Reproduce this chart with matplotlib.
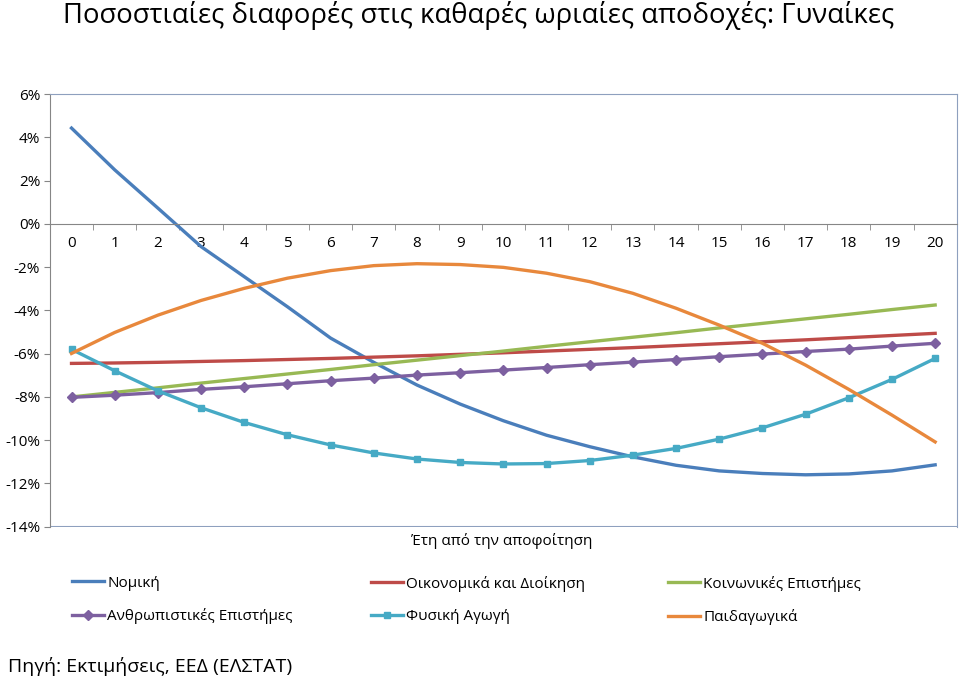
import numpy as np
import matplotlib.pyplot as plt
from matplotlib.ticker import FuncFormatter

plt.rcParams['font.family'] = ['Open Sans', 'DejaVu Sans']

years = list(range(21))

nomiki = [4.43, 2.5, 0.73, -1.05, -2.44, -3.83, -5.28, -6.4, -7.45, -8.33, -9.1,
          -9.77, -10.3, -10.77, -11.16, -11.42, -11.54, -11.6, -11.56, -11.42, -11.14]
oikonomika = [-6.45, -6.43, -6.4, -6.36, -6.32, -6.27, -6.22, -6.16, -6.1, -6.03, -5.96,
              -5.88, -5.8, -5.72, -5.63, -5.54, -5.45, -5.36, -5.26, -5.16, -5.06]
koinonikes = [-8.0, -7.79, -7.58, -7.36, -7.15, -6.94, -6.73, -6.51, -6.3, -6.09, -5.88,
              -5.66, -5.45, -5.24, -5.03, -4.81, -4.6, -4.39, -4.18, -3.96, -3.75]
anthropistikes = [-8.02, -7.92, -7.8, -7.65, -7.53, -7.39, -7.25, -7.13, -6.99, -6.88, -6.76,
                  -6.64, -6.51, -6.39, -6.27, -6.14, -6.02, -5.9, -5.79, -5.65, -5.52]
fysiki = [-5.8, -6.79, -7.72, -8.5, -9.18, -9.75, -10.22, -10.59, -10.87, -11.03, -11.1,
          -11.08, -10.94, -10.69, -10.38, -9.95, -9.43, -8.8, -8.04, -7.19, -6.22]
paidagogika = [-5.99, -5.02, -4.22, -3.54, -2.98, -2.51, -2.16, -1.93, -1.84, -1.88, -2.01,
               -2.28, -2.67, -3.21, -3.9, -4.68, -5.52, -6.53, -7.65, -8.84, -10.08]

fig = plt.figure(figsize=(9.6, 6.82), dpi=100)
ax = fig.add_axes([0.052, 0.2277, 0.9446, 0.6343])

lw = 2.4
h1, = ax.plot(years, nomiki, color='#4A7EBB', lw=lw, label='Νομική')
h2, = ax.plot(years, oikonomika, color='#BE4B48', lw=lw, label='Οικονομικά και Διοίκηση')
h3, = ax.plot(years, koinonikes, color='#98B954', lw=lw, label='Κοινωνικές Επιστήμες')
h4, = ax.plot(years, anthropistikes, color='#7D60A0', lw=lw, marker='D', ms=5.5,
              label='Ανθρωπιστικές Επιστήμες')
h5, = ax.plot(years, fysiki, color='#46AAC5', lw=lw, marker='s', ms=4.5, label='Φυσική Αγωγή')
h6, = ax.plot(years, paidagogika, color='#E8883C', lw=lw, label='Παιδαγωγικά')

ax.set_xlim(-0.5, 20.5)
ax.set_ylim(-14, 6)
ax.set_yticks(np.arange(-14, 7, 2))
ax.yaxis.set_major_formatter(FuncFormatter(lambda v, p: '%d%%' % v))
ax.tick_params(axis='y', length=4, color='#868686', labelsize=11, pad=3)

# x axis sits on the 0% line
ax.spines['bottom'].set_position(('data', 0))
ax.spines['bottom'].set_color('#868686')
ax.spines['left'].set_color('#868686')
for s in ['top', 'right']:
    ax.spines[s].set_color('#8EA0BE')
ax.axhline(-14, color='#8EA0BE', lw=1.5, zorder=0)
ax.set_xticks(years)
ax.set_xticks(np.arange(-0.5, 20.6, 1), minor=True)
ax.tick_params(axis='x', which='major', length=0, labelsize=11, pad=9)
ax.tick_params(axis='x', which='minor', length=4, color='#868686')

fig.text(0.523, 0.207, 'Έτη από την αποφοίτηση', ha='center', va='center', fontsize=11)

fig.text(0.066, 0.977, 'Ποσοστιαίες διαφορές στις καθαρές ωριαίες αποδοχές: Γυναίκες',
         ha='left', va='center', fontsize=19.8)

cols = [([h1, h4], 0.075), ([h2, h5], 0.386), ([h3, h6], 0.696)]
for hs, xpos in cols:
    fig.legend(handles=hs, loc='upper left', bbox_to_anchor=(xpos, 0.156), frameon=False,
               fontsize=11, handlelength=2.1, handletextpad=0.2, labelspacing=1.15,
               borderaxespad=0, borderpad=0)

fig.text(0.008, 0.022, 'Πηγή: Εκτιμήσεις, ΕΕΔ (ΕΛΣΤΑΤ)', ha='left', va='center', fontsize=14)

fig.savefig('out.png', dpi=100)
